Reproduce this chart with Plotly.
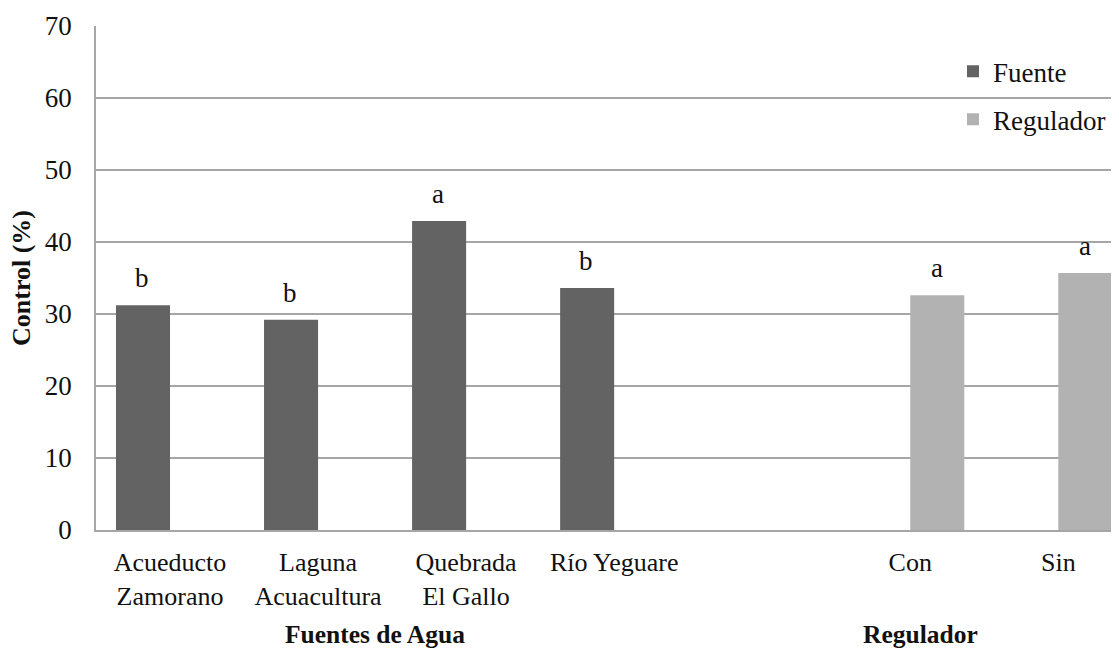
import plotly.graph_objects as go

categories = ["Acueducto<br>Zamorano", "Laguna<br>Acuacultura", "Quebrada<br>El Gallo",
              "Río Yeguare", " ", "Con", "Sin"]
fuente = [31.2, 29.2, 42.9, 33.6, None, None, None]
regulador = [None, None, None, None, None, 32.6, 35.7]
fuente_letters = ["b", "b", "a", "b", "", "", ""]
regulador_letters = ["", "", "", "", "", "a", "a"]

FONT = "Liberation Serif, Times New Roman, serif"
C_F = "#636363"
C_R = "#b2b2b2"
GRID = "#a6a6a6"
TXT = "#111111"

# page body has an 8px margin: figure is sized so the plot lands where the reference has it
W, H = 1111, 642
L, T, B = 88, 18, 120
PW = W - L

fig = go.Figure()
fig.add_trace(go.Bar(x=categories, y=fuente, name="Fuente", marker_color=C_F,
                     marker_line_width=0, legendgroup="f"))
fig.add_trace(go.Bar(x=categories, y=regulador, name="Regulador", marker_color=C_R,
                     marker_line_width=0, legendgroup="r"))

for cat, v, t in zip(categories, fuente, fuente_letters):
    if v is not None and t:
        fig.add_annotation(x=cat, y=v, text=t, showarrow=False, xshift=-28,
                           yanchor="bottom", yshift=10,
                           font=dict(family=FONT, size=27, color=TXT))
for cat, v, t in zip(categories, regulador, regulador_letters):
    if v is not None and t:
        fig.add_annotation(x=cat, y=v, text=t, showarrow=False, xshift=27,
                           yanchor="bottom", yshift=10,
                           font=dict(family=FONT, size=27, color=TXT))

fig.add_annotation(xref="paper", yref="paper", x=0, y=0.5, xshift=-75,
                   text="<b>Control (%)</b>", textangle=-90, showarrow=False,
                   xanchor="center", yanchor="middle",
                   font=dict(family=FONT, size=26, color=TXT))
fig.add_annotation(xref="paper", yref="paper", x=(375 - 96) / PW, y=0, yshift=-104,
                   text="<b>Fuentes de Agua</b>", showarrow=False,
                   xanchor="center", yanchor="middle",
                   font=dict(family=FONT, size=25.5, color=TXT))
fig.add_annotation(xref="paper", yref="paper", x=(920 - 96) / PW, y=0, yshift=-104,
                   text="<b>Regulador</b>", showarrow=False,
                   xanchor="center", yanchor="middle",
                   font=dict(family=FONT, size=25.5, color=TXT))

fig.update_layout(
    width=W, height=H,
    margin=dict(l=L, r=0, t=T, b=B, autoexpand=False),
    paper_bgcolor="white", plot_bgcolor="white",
    barmode="group", bargap=0.27, bargroupgap=0,
    font=dict(family=FONT, size=26, color=TXT),
    legend=dict(x=(953 - 96) / PW, y=0.958, xanchor="left", yanchor="top",
                bgcolor="rgba(0,0,0,0)", tracegroupgap=10,
                font=dict(family=FONT, size=27, color=TXT)),
    xaxis=dict(type="category", categoryorder="array", categoryarray=categories,
               range=[-0.5, 6.41], showline=True, linecolor=GRID, linewidth=1.5,
               showgrid=False, ticks="", ticklabelstandoff=8, automargin=False,
               tickfont=dict(family=FONT, size=26, color=TXT)),
    yaxis=dict(range=[0, 70], dtick=10, showgrid=True, gridcolor=GRID, gridwidth=1.5,
               showline=True, linecolor=GRID, linewidth=1.5, zeroline=False,
               ticks="", ticklabelstandoff=17, automargin=False,
               tickfont=dict(family=FONT, size=27, color=TXT)),
)

fig.write_html("out.html")
